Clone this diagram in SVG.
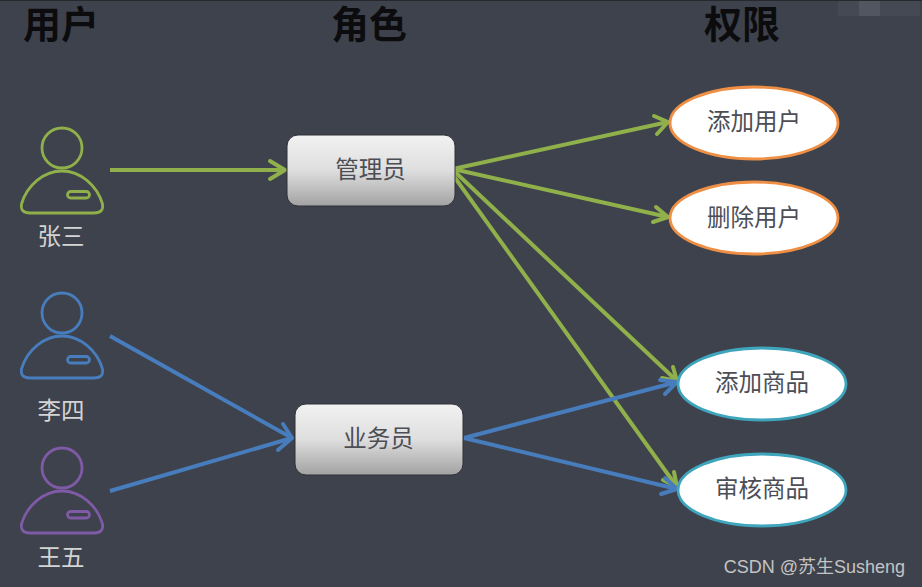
<svg xmlns="http://www.w3.org/2000/svg" width="922" height="587" viewBox="0 0 922 587">
  <style>
    .bg { fill: #3e424c; }
    .title { font: bold 38px "Liberation Sans", "Noto Sans CJK SC", sans-serif; fill: #0c0c0e; text-anchor: middle; }
    .name { font: 23.500px "Noto Sans CJK SC", sans-serif; fill: #d4d4d4; text-anchor: middle; }
    .label { font: 23.500px "Noto Sans CJK SC", sans-serif; fill: #4c4e56; text-anchor: middle; }
    .mark { font: 18px "Liberation Sans", "Noto Sans CJK SC", sans-serif; fill: #c4c4c4; text-anchor: end; }
    .person { fill: none; stroke-width: 2.800; }
    .role { fill: url(#roleFill); stroke: #2f3137; stroke-width: 1; }
    .perm { fill: #fff; stroke-width: 2.800; }
    .orange { stroke: #ee8f45; }
    .teal { stroke: #3fa5bd; }
    .link { fill: none; stroke-width: 4; }
    .green { stroke: #8fb04a; }
    .blue { stroke: #487dbd; }
    .head { fill: none; stroke-width: 4; stroke-linecap: round; stroke-linejoin: round; }
  </style>
  <defs>
    <linearGradient id="roleFill" x1="0" y1="0" x2="0" y2="1">
      <stop offset="0" stop-color="#f2f2f2"/>
      <stop offset="0.5" stop-color="#dedede"/>
      <stop offset="1" stop-color="#a2a2a2"/>
    </linearGradient>
    <symbol id="figure" overflow="visible">
      <circle cx="62" cy="148" r="20"/>
      <path d="M30 213 H94 Q104 213 102.500 204 C97 185 80 171 62 171 C44 171 27 185 21.500 204 Q20 213 30 213 Z"/>
      <rect x="67.500" y="191.500" width="22" height="6.500" rx="3.250"/>
    </symbol>
  </defs>

  <rect class="bg" width="922" height="587"/>
  <rect width="922" height="1" fill="#26282d"/>
  <rect x="838" y="1" width="82" height="15" fill="#454954"/>
  <rect x="859" y="1" width="21" height="15" fill="#525660"/>

  <text class="title" x="61" y="38">用户</text>
  <text class="title" x="369" y="38">角色</text>
  <text class="title" x="742" y="38">权限</text>

  <g id="connectors">
    <path class="link green" d="M110 170 H285"/>
    <path class="head green" d="M270 161 L285 170 L270 179"/>
    <path class="link green" d="M453 169 L668 122"/>
    <path class="head green" d="M654 116 L668 122 L657 134"/>
    <path class="link green" d="M453 169 L668 217"/>
    <path class="head green" d="M656 207 L668 217 L653 222"/>
    <path class="link green" d="M453 170 L677 381"/>
    <path class="head green" d="M673 367 L677 381 L662 378"/>
    <path class="link green" d="M453 175 L677 487"/>
    <path class="head green" d="M674 472 L677 487 L663 480"/>
    <path class="link blue" d="M110 336 L292 438"/>
    <path class="link blue" d="M110 491 L292 438"/>
    <path class="head blue" d="M283 424 L292 438 L278 450"/>
    <path class="link blue" d="M464 438 L677 382"/>
    <path class="head blue" d="M660 380 L677 382 L665 394"/>
    <path class="link blue" d="M464 438 L677 489"/>
    <path class="head blue" d="M665 478 L677 489 L661 494"/>
  </g>

  <g id="user-zhangsan">
    <use href="#figure" class="person" stroke="#8fb04a"/>
    <text class="name" x="61" y="245">张三</text>
  </g>
  <g id="user-lisi">
    <use href="#figure" class="person" y="165" stroke="#487dbd"/>
    <text class="name" x="61" y="419">李四</text>
  </g>
  <g id="user-wangwu">
    <use href="#figure" class="person" y="320" stroke="#7f5aa6"/>
    <text class="name" x="61" y="566">王五</text>
  </g>

  <g id="role-admin">
    <rect class="role" x="287" y="135" width="168" height="71" rx="11"/>
    <text class="label" x="370.500" y="178">管理员</text>
  </g>
  <g id="role-sales">
    <rect class="role" x="295" y="404" width="168" height="71" rx="11"/>
    <text class="label" x="378.500" y="447">业务员</text>
  </g>

  <g id="perm-add-user">
    <ellipse class="perm orange" cx="754" cy="123" rx="84" ry="36"/>
    <text class="label" x="754" y="130">添加用户</text>
  </g>
  <g id="perm-del-user">
    <ellipse class="perm orange" cx="754" cy="218" rx="84" ry="36"/>
    <text class="label" x="754" y="226">删除用户</text>
  </g>
  <g id="perm-add-goods">
    <ellipse class="perm teal" cx="762" cy="384" rx="84" ry="36"/>
    <text class="label" x="762" y="391">添加商品</text>
  </g>
  <g id="perm-review-goods">
    <ellipse class="perm teal" cx="762" cy="490" rx="84" ry="36"/>
    <text class="label" x="762" y="497">审核商品</text>
  </g>

  <text class="mark" x="905" y="573">CSDN @苏生Susheng</text>
</svg>
